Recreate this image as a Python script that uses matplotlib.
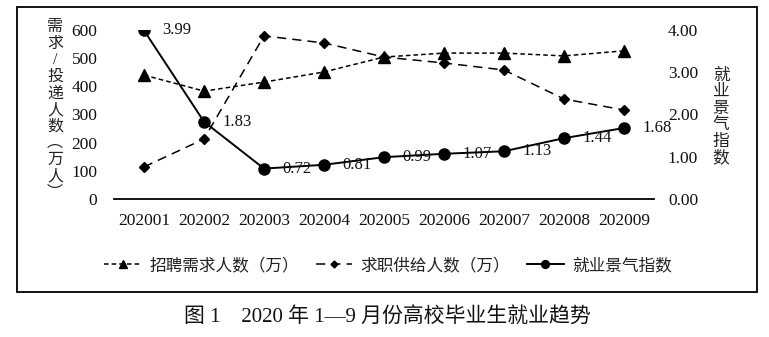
import matplotlib
matplotlib.use("Agg")
import matplotlib.pyplot as plt
from matplotlib.patches import Rectangle
from matplotlib.ticker import FormatStrFormatter

plt.rcParams['font.family'] = ['Liberation Serif', 'Noto Sans CJK SC']

months = ["202001", "202002", "202003", "202004", "202005",
          "202006", "202007", "202008", "202009"]
demand = [440, 383, 415, 451, 504, 518, 518, 508, 526]      # 招聘需求人数（万）
supply = [114, 213, 579, 554, 504, 483, 458, 355, 316]      # 求职供给人数（万）
index = [3.99, 1.83, 0.72, 0.81, 0.99, 1.07, 1.13, 1.44, 1.68]  # 就业景气指数

W, H = 769, 337
fig = plt.figure(figsize=(W / 100, H / 100), dpi=100)
ax = fig.add_axes([114 / W, 1 - 199 / H, 540 / W, 169 / H])
ax2 = ax.twinx()

x = list(range(len(months)))
l1, = ax.plot(x, demand, color='black', lw=1.1, ls=(0, (3, 2)),
              marker='^', ms=8, label='招聘需求人数（万）')
l2, = ax.plot(x, supply, color='black', lw=1.1, ls=(0, (6, 4)),
              marker='D', ms=5, label='求职供给人数（万）')
l3, = ax2.plot(x, index, color='black', lw=1.4, ls='-',
               marker='o', ms=8, label='就业景气指数')

for xi, v in zip(x, index):
    ax2.annotate(f"{v:.2f}", (xi, v), xytext=(13, 0), textcoords='offset points',
                 ha='left', va='center', fontsize=12, color='#111')

ax.set_xlim(-0.5, len(months) - 0.5)
ax.set_ylim(0, 600)
ax2.set_ylim(0, 4)
ax.set_yticks(range(0, 601, 100))
ax2.set_yticks([0, 1, 2, 3, 4])
ax2.yaxis.set_major_formatter(FormatStrFormatter('%.2f'))
ax.set_xticks(x)
ax.set_xticklabels(months)

for a in (ax, ax2):
    for s in ('top', 'left', 'right', 'bottom'):
        a.spines[s].set_visible(False)
    a.tick_params(length=0, labelsize=12.5, colors='#111')
ax.spines['bottom'].set_visible(True)
ax.spines['bottom'].set_linewidth(1.3)
ax.tick_params(axis='x', pad=10)
ax.tick_params(axis='y', pad=12)
ax2.tick_params(axis='y', pad=10)

fig.text(55 / W, 1 - 110 / H, "\n".join("需求/投递人数︵万人︶"), ha='center', va='center',
         fontsize=11.5, linespacing=1.05, color='#222')
fig.text(721 / W, 1 - 117 / H, "\n".join("就业景气指数"), ha='center', va='center',
         fontsize=12, linespacing=1.05, color='#222')

fig.legend(handles=[l1, l2, l3], loc='center', bbox_to_anchor=(388 / W, 1 - 266 / H),
           ncol=3, frameon=False, fontsize=12, handlelength=2.2, handletextpad=0.5,
           columnspacing=1.0, markerscale=0.7, labelcolor='#222')

fig.patches.append(Rectangle((17 / W, 1 - 292 / H), 740 / W, 285 / H, transform=fig.transFigure,
                             fill=False, edgecolor='black', lw=1.3))

fig.text(387 / W, 1 - 318 / H, "图 1　2020 年 1—9 月份高校毕业生就业趋势", ha='center', va='center',
         fontsize=15, color='#111')

fig.savefig("out.png", dpi=100)
